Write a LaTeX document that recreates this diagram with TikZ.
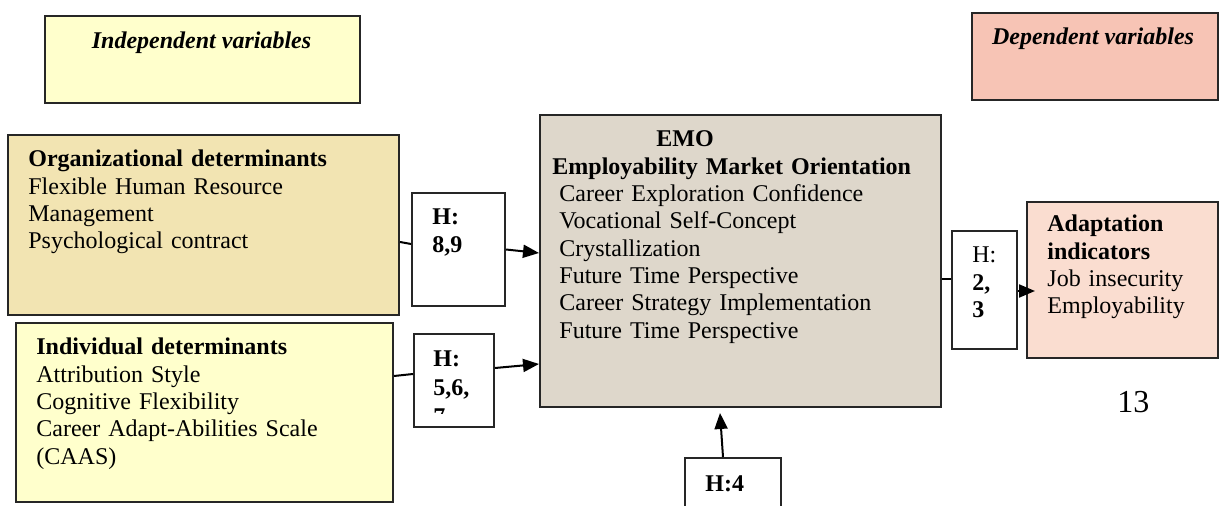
\documentclass[tikz,border=0pt]{standalone}
\usepackage{fontspec}
\setmainfont{Liberation Serif}
\usetikzlibrary{arrows.meta}
\definecolor{paleyellow}{HTML}{FFFFCC}
\definecolor{wheatfill}{HTML}{F2E4B2}
\definecolor{emofill}{HTML}{DED7CB}
\definecolor{depfill}{HTML}{F7C4B5}
\definecolor{adaptfill}{HTML}{FADDD0}
\begin{document}
\begin{tikzpicture}[x=0.5pt, y=-0.5pt,
        box/.style={draw=black!85, line width=1pt, anchor=north west, inner sep=0pt},
        txt/.style={anchor=base west, inner sep=0pt, align=left, text width=220pt, font=\fontsize{12}{13.65}\selectfont},
        title/.style={anchor=base, inner sep=0pt, font=\fontsize{12}{13.65}\selectfont\bfseries\itshape},
        >={Triangle[length=8pt, width=6.5pt]}]
        \useasboundingbox (0,0) rectangle (1224,506);
        \node[box, fill=paleyellow, minimum width=157.5pt, minimum height=43.5pt] (indep) at (44,15) {};
        \node[title] (indep-title) at (201.5,49) {Independent variables};
        \node[box, fill=depfill, minimum width=123pt, minimum height=43.5pt] (dep) at (971,12) {};
        \node[title] (dep-title) at (1093,45) {Dependent variables};
        \node[box, fill=wheatfill, minimum width=195.5pt, minimum height=90pt] (org) at (7,134) {};
        \node[txt] (org-text) at (28,167) {\textbf{Organizational determinants}\\Flexible Human Resource\\Management\\Psychological contract};
        \node[box, fill=paleyellow, minimum width=188.5pt, minimum height=89.5pt] (indiv) at (15,322) {};
        \node[txt] (indiv-text) at (36,355) {\textbf{Individual determinants}\\Attribution Style\\Cognitive Flexibility\\Career Adapt-Abilities Scale\\(CAAS)};
        \node[box, fill=white, minimum width=46.5pt, minimum height=56.5pt] (h89) at (411,192) {};
        \node[txt] (h89-text) at (432,225) {\textbf{H:}\\\textbf{8,9}};
        \node[box, fill=white, minimum width=40pt, minimum height=46.5pt] (h567) at (413,333) {};
        \begin{scope}
            \clip (413,333) rectangle (492,414);
            \node[txt, font=\fontsize{12}{14.5}\selectfont\bfseries] (h567-text) at (433,367) {H:\\5,6,\\7};
        \end{scope}
        \node[box, fill=emofill, minimum width=200.5pt, minimum height=146pt] (emo) at (539,114) {};
        \node[txt] (emo-text) at (552,147) {\textbf{\hspace*{52pt}EMO}\\\textbf{Employability Market Orientation}\\
            \hspace*{3.5pt}Career Exploration Confidence\\\hspace*{3.5pt}Vocational Self-Concept\\\hspace*{3.5pt}Crystallization\\
            \hspace*{3.5pt}Future Time Perspective\\\hspace*{3.5pt}Career Strategy Implementation\\\hspace*{3.5pt}Future Time Perspective};
        \node[box, fill=white, minimum width=32.5pt, minimum height=59pt] (h23) at (951,230) {};
        \node[txt] (h23-text) at (972,263) {H:\\\textbf{2,}\\\textbf{3}};
        \node[box, fill=adaptfill, minimum width=95.5pt, minimum height=78pt] (adapt) at (1026,201) {};
        \node[txt] (adapt-text) at (1047,232) {\textbf{Adaptation}\\\textbf{indicators}\\Job insecurity\\Employability};
        \node[box, fill=white, minimum width=48pt, minimum height=32pt] (h4) at (684,457) {};
        \node[txt] (h4-text) at (705,492) {\textbf{H:4}};
        \node[anchor=base west, inner sep=0pt, font=\fontsize{16}{19}\selectfont] (pagenum) at (1117,413) {13};
        \draw[line width=1pt] ([yshift=-8.5pt]org.east) -- ([yshift=2.75pt]h89.west);
        \draw[->, line width=1pt] (h89.east) -- ([yshift=4pt]emo.west);
        \draw[line width=1pt] ([yshift=18.25pt]indiv.east) -- ([yshift=3.25pt]h567.west);
        \draw[->, line width=1pt] ([yshift=6.25pt]h567.east) -- ([yshift=-51.5pt]emo.west);
        \draw[line width=1pt] ([yshift=-9pt]emo.east) -- ([yshift=5.5pt]h23.west);
        \draw[->, line width=1pt] ([yshift=-0.5pt]h23.east) -- ([xshift=4.5pt, yshift=-5.5pt]adapt.west);
        \draw[->, line width=1pt] ([xshift=-5pt]h4.north) -- ([xshift=-10.25pt, yshift=-2.5pt]emo.south);
\end{tikzpicture}
\end{document}
